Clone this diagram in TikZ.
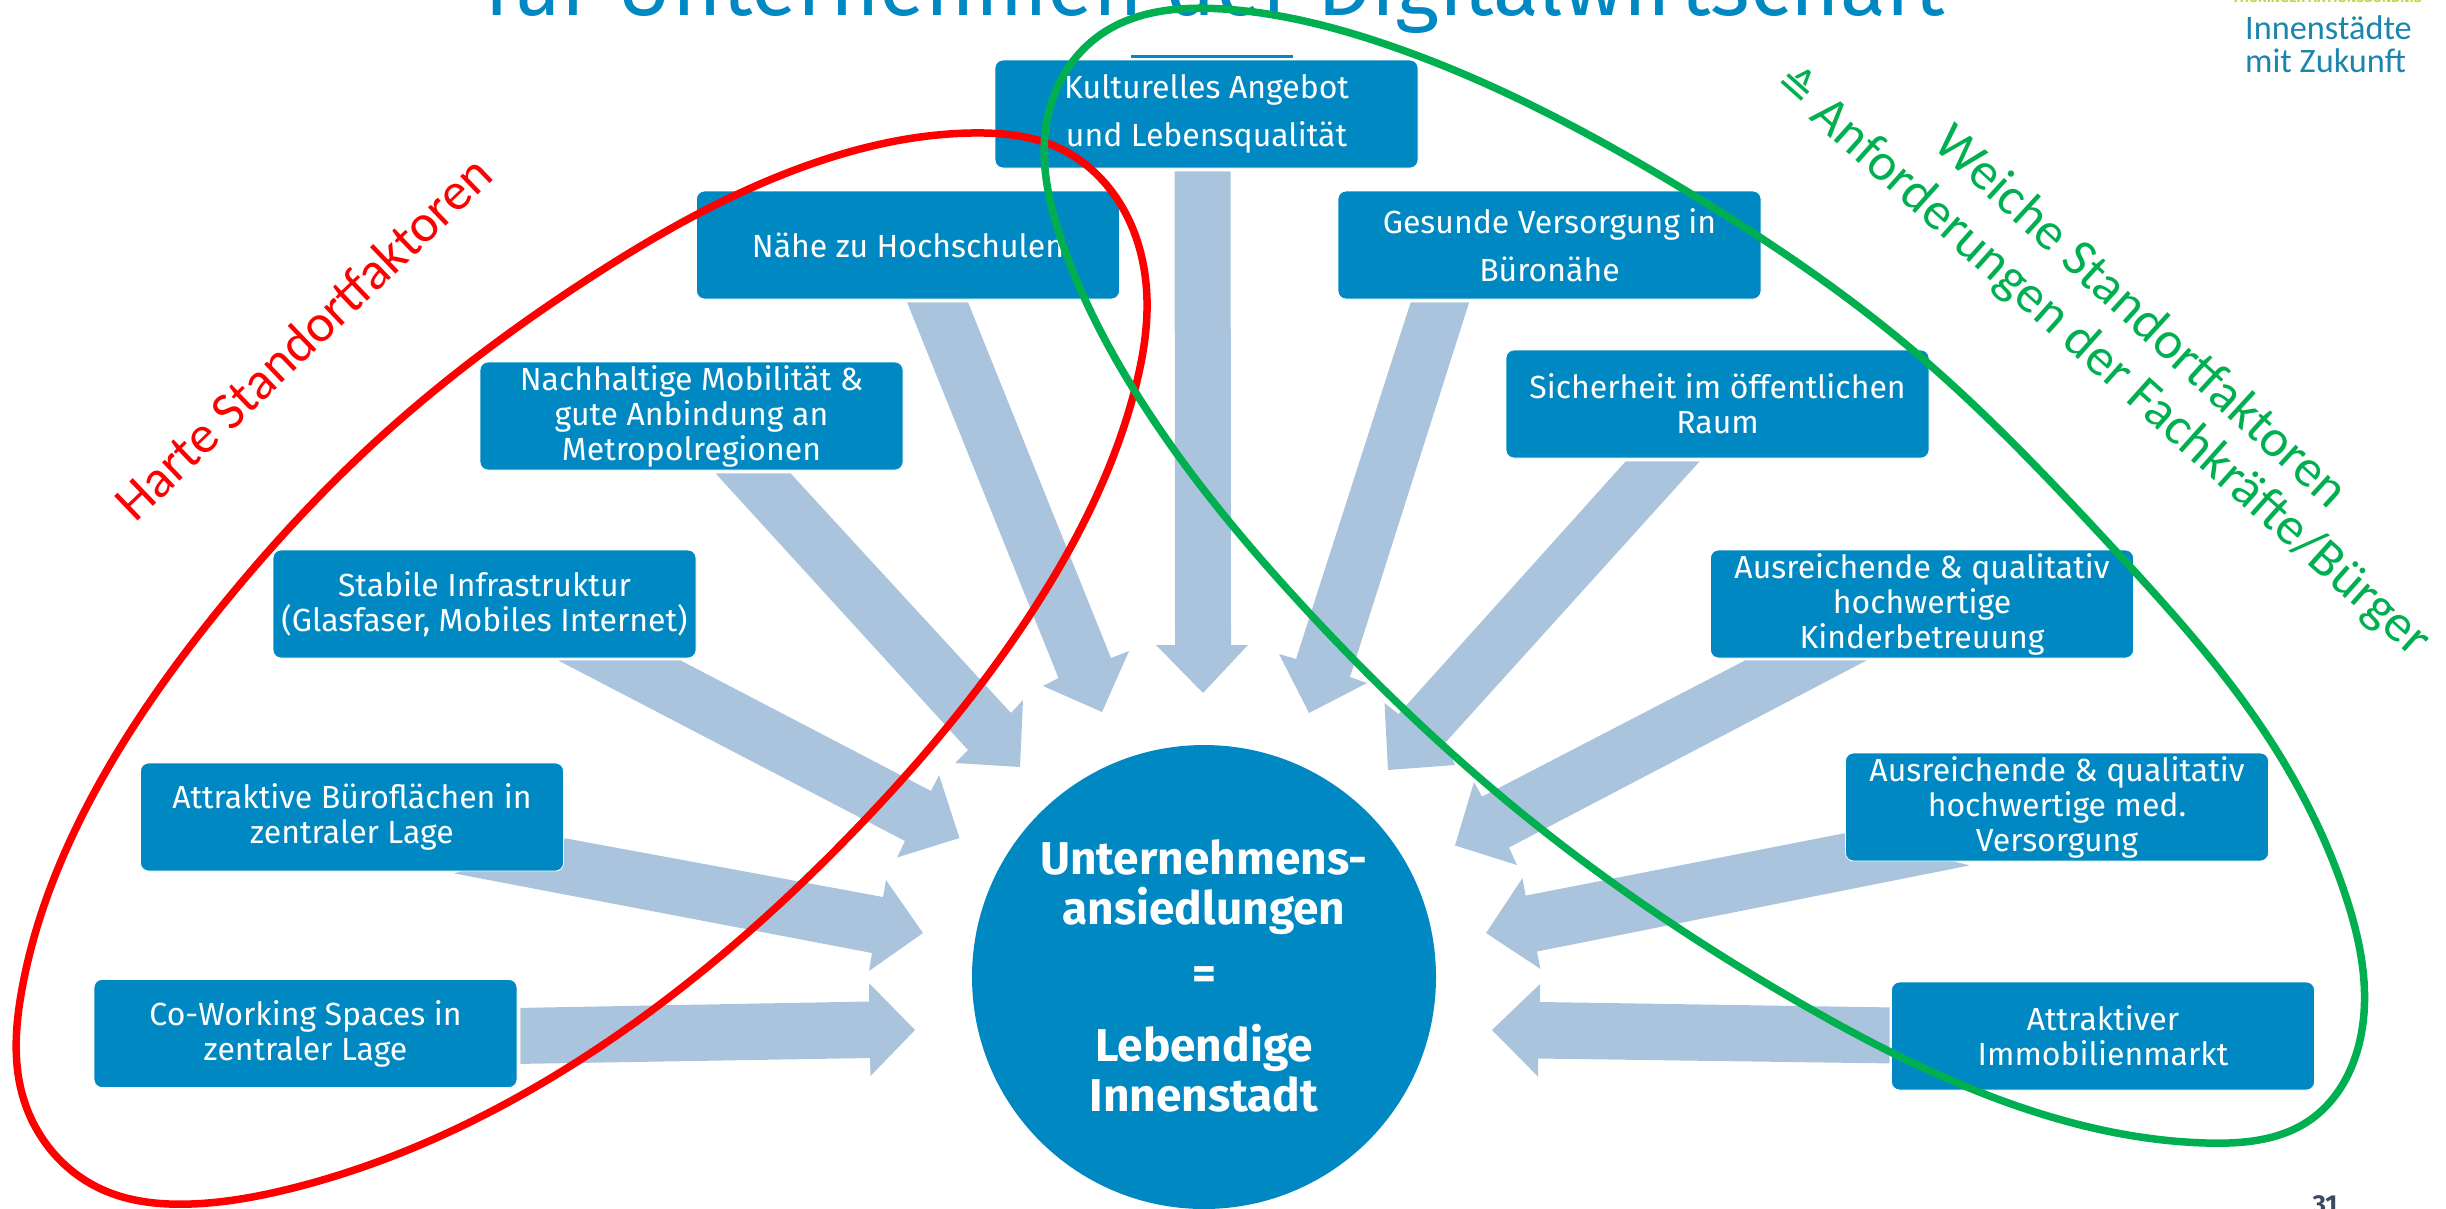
\documentclass[tikz,border=0pt]{standalone}
\usepackage{fontspec}
\setmainfont{Fira Sans}
\newfontfamily\labelfont{Carlito}
\newfontfamily\symfont{DejaVu Sans}
\usetikzlibrary{calc,hobby}
\pgfdeclarelayer{behind}
\pgfsetlayers{behind,main}
\definecolor{boxblue}{HTML}{0088C2}
\definecolor{flowblue}{HTML}{ABC4DE}
\definecolor{hardred}{HTML}{FF0000}
\definecolor{softgreen}{HTML}{00B050}
\definecolor{logoblue}{HTML}{1A85AD}
\definecolor{logoyellow}{HTML}{C9D34A}
\definecolor{pagenum}{HTML}{3B4A5E}
\tikzset{
  factor/.style={fill=boxblue,draw=white,line width=0.8pt,rounded corners=8pt,minimum width=423pt,minimum height=108pt,
    inner sep=0pt,text=white,align=center,anchor=center},
  lead36/.style={font=\fontsize{32}{35}\selectfont},
  lead47/.style={font=\fontsize{32}{48}\selectfont},
  flow/.style={fill=flowblue,draw=none},
  ovalline/.style={line width=7.5pt,use Hobby shortcut,closed=true},
  sidelabel/.style={font=\labelfont\fontsize{53}{53}\selectfont,inner sep=0pt,anchor=center},
}
\begin{document}
\begin{tikzpicture}[x=1pt,y=-1pt]
\useasboundingbox (0,0) rectangle (2446,1208);
\node[anchor=base,text=boxblue,inner sep=0pt,font=\fontsize{84.5}{85}\selectfont] (title) at (1214.5,15) {für Unternehmen der Digitalwirtschaft};
\coordinate (ruleL) at (1131,56);
\coordinate (ruleR) at (1293,56);
\draw[boxblue,line width=3pt] (ruleL) -- (ruleR);
\node[anchor=base,text=logoyellow,inner sep=0pt,font=\bfseries\fontsize{14}{14}\selectfont] (logotop) at (2327,2) {THÜRINGER AKTIONSBÜNDNIS};
\node[anchor=west,text=logoblue,inner sep=0pt,align=left,font=\labelfont\fontsize{34.3}{33}\selectfont] (logo) at (2245,44) {Innenstädte\\mit Zukunft};
\node[fill=boxblue,circle,minimum size=464pt,inner sep=0pt] (hub) at (1204,977) {};
\node[factor,lead47] (kult) at (1206.5,114) {Kulturelles Angebot\\und Lebensqualität};
\node[factor,lead36] (nahe) at (908,245) {Nähe zu Hochschulen};
\node[factor,lead36] (nach) at (691.5,416) {Nachhaltige Mobilität \&\\gute Anbindung an\\Metropolregionen};
\node[factor,lead36] (stab) at (484.5,604) {Stabile Infrastruktur\\(Glasfaser, Mobiles Internet)};
\node[factor,lead36] (buro) at (352,817) {Attraktive Büroflächen in\\zentraler Lage};
\node[factor,lead36] (cowo) at (305.5,1033.5) {Co-Working Spaces in\\zentraler Lage};
\node[factor,lead47] (gesu) at (1549.5,245) {Gesunde Versorgung in\\Büronähe};
\node[factor,lead36] (sich) at (1717.5,404) {Sicherheit im öffentlichen\\Raum};
\node[factor,lead36] (kind) at (1922,604) {Ausreichende \& qualitativ\\hochwertige\\Kinderbetreuung};
\node[factor,lead36] (medi) at (2057,807) {Ausreichende \& qualitativ\\hochwertige med.\\Versorgung};
\node[factor,lead36] (immo) at (2103,1036) {Attraktiver\\Immobilienmarkt};
% block arrows
\begin{pgfonlayer}{behind}
\fill[flow] ($(kult.south west)+(236,3)$) -- ($(hub.center)+(27,-332)$) -- ($(hub.center)+(44,-332)$) -- ($(hub.center)+(-1,-284)$) -- ($(hub.center)+(-48,-332)$) -- ($(hub.center)+(-29,-332)$) -- ($(kult.south west)+(180,3)$) -- cycle;
\fill[flow] ($(nahe.south west)+(272,3)$) -- ($(hub.center)+(-93,-319)$) -- ($(hub.center)+(-75,-326)$) -- ($(hub.center)+(-102,-265)$) -- ($(hub.center)+(-161,-291)$) -- ($(hub.center)+(-145.5,-299)$) -- ($(nahe.south west)+(211,3)$) -- cycle;
\fill[flow] ($(nach.south west)+(311,3)$) -- ($(hub.center)+(-193,-264)$) -- ($(hub.center)+(-181,-277)$) -- ($(hub.center)+(-184,-210)$) -- ($(hub.center)+(-249,-214)$) -- ($(hub.center)+(-236,-227)$) -- ($(nach.south west)+(236,3)$) -- cycle;
\fill[flow] ($(stab.south west)+(408,2)$) -- ($(hub.center)+(-273,-186)$) -- ($(hub.center)+(-265,-202)$) -- ($(hub.center)+(-244.5,-139)$) -- ($(hub.center)+(-307,-119.5)$) -- ($(hub.center)+(-299,-136)$) -- ($(stab.south west)+(285.5,2)$) -- cycle;
\fill[flow] ($(buro.south east)+(2,-33)$) -- ($(hub.center)+(-321,-80)$) -- ($(hub.center)+(-318,-97)$) -- ($(hub.center)+(-281,-44)$) -- ($(hub.center)+(-335,-6)$) -- ($(hub.center)+(-332,-24)$) -- ($(buro.south west)+(314,2)$) -- cycle;
\fill[flow] ($(cowo.south east)+(3,-80)$) -- ($(hub.center)+(-335,24.5)$) -- ($(hub.center)+(-335,6)$) -- ($(hub.center)+(-289,53)$) -- ($(hub.center)+(-333.5,99)$) -- ($(hub.center)+(-334,81)$) -- ($(cowo.south east)+(3,-24)$) -- cycle;
\fill[flow] ($(gesu.south west)+(131.5,3)$) -- ($(hub.center)+(146,-300)$) -- ($(hub.center)+(163,-294)$) -- ($(hub.center)+(105,-264)$) -- ($(hub.center)+(75,-323)$) -- ($(hub.center)+(92,-318)$) -- ($(gesu.south west)+(73,3)$) -- cycle;
\fill[flow] ($(sich.south west)+(194,3)$) -- ($(hub.center)+(241,-234)$) -- ($(hub.center)+(251,-212)$) -- ($(hub.center)+(184,-207)$) -- ($(hub.center)+(180.5,-274)$) -- ($(hub.center)+(194.5,-263)$) -- ($(sich.south west)+(120,3)$) -- cycle;
\fill[flow] ($(kind.south west)+(156.5,2)$) -- ($(hub.center)+(305,-129.5)$) -- ($(hub.center)+(313,-112)$) -- ($(hub.center)+(251,-131.5)$) -- ($(hub.center)+(270,-195)$) -- ($(hub.center)+(278,-180.4)$) -- ($(kind.south west)+(35,2)$) -- cycle;
\fill[flow] ($(medi.south west)+(124.5,4)$) -- ($(hub.center)+(333,-25.5)$) -- ($(hub.center)+(336.5,-8)$) -- ($(hub.center)+(282,-44)$) -- ($(hub.center)+(318.5,-99)$) -- ($(hub.center)+(321.6,-81.4)$) -- ($(medi.south west)+(-1.5,-28)$) -- cycle;
\fill[flow] ($(immo.south west)+(-1.5,-27)$) -- ($(hub.center)+(334,81.5)$) -- ($(hub.center)+(334,99.6)$) -- ($(hub.center)+(288,53)$) -- ($(hub.center)+(336,7)$) -- ($(hub.center)+(336,25)$) -- ($(immo.south west)+(-1.5,-83)$) -- cycle;
\end{pgfonlayer}
% hub text
\node[text=white,inner sep=0pt,align=center,font=\bfseries\fontsize{46}{50}\selectfont] (hubtext) at (1204,976) {Unternehmens-\\ansiedlungen\\[15pt]=\\[22pt]Lebendige\\Innenstadt};
% page number
\node[anchor=base,text=pagenum,inner sep=0pt,font=\bfseries\fontsize{26}{26}\selectfont] (pageno) at (2325,1213) {31};
% side labels
\node[sidelabel,text=hardred,rotate=43.8] (harte) at (303,338) {Harte Standortfaktoren};
\node[sidelabel,text=softgreen,rotate=-42.5] (weiche) at (2143,315) {Weiche Standortfaktoren};
\node[sidelabel,text=softgreen,rotate=-41.8] (anford) at (2102,362) {{\symfont\fontsize{44}{44}\selectfont ≙} Anforderungen der Fachkräfte/Bürger};
% ovals
\draw[hardred,ovalline] (971,133) .. (800,168) .. (585,281) .. (374,443) .. (226,601) .. (94,793) .. (22,989) .. (23,1097) .. (101,1189) .. (191,1204) .. (289,1189) .. (507,1103) .. (659,1005) .. (858,827) .. (1037,604) .. (1135,389) .. (1147,300) .. (1127,216) .. (1061,149);
\draw[softgreen,ovalline] (1223,9) .. (1100,35) .. (1047,120) .. (1061,239) .. (1131,385) .. (1301,604) .. (1535,824) .. (1800,1003) .. (2003,1101) .. (2206,1143) .. (2310,1120) .. (2360,1040) .. (2346,897) .. (2264,731) .. (2112,547) .. (1909,347) .. (1683,189) .. (1379,42);
\end{tikzpicture}
\end{document}
